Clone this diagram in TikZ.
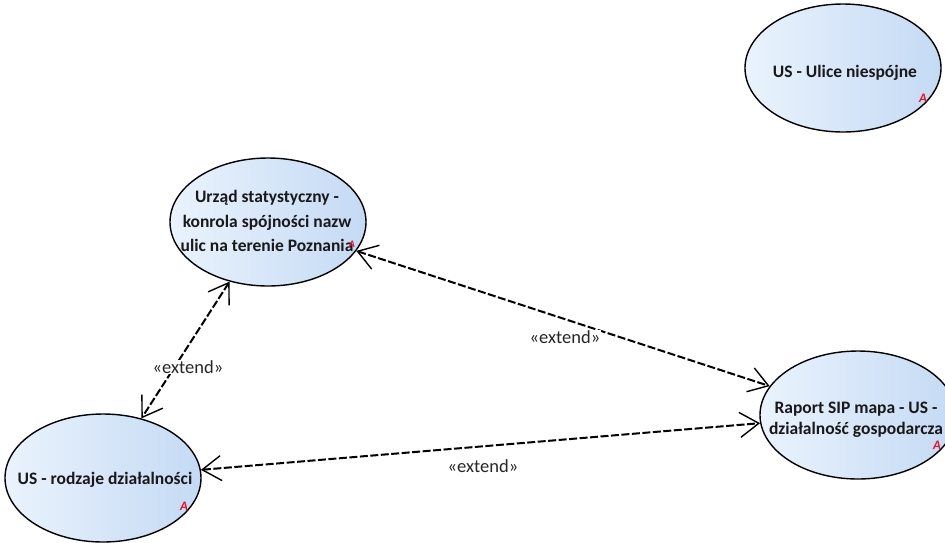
\documentclass[tikz,border=0pt]{standalone}
\usepackage{fontspec}
\setmainfont{Carlito}
\usetikzlibrary{shapes.geometric,arrows.meta}
\definecolor{fillL}{HTML}{EAF3FD}
\definecolor{fillR}{HTML}{C4DAF4}
\definecolor{markred}{HTML}{E8102A}
\tikzset{
  usecase/.style={ellipse, draw=black, line width=1.4pt, left color=fillL, right color=fillR,
    minimum width=196pt, minimum height=128pt, inner sep=0pt},
  uctext/.style={font=\fontsize{17.5}{24.5}\selectfont\bfseries, align=center, text=black!90},
  extlink/.style={line width=2pt, dash pattern=on 8pt off 2.5pt,
    {Straight Barb[length=19pt,width=25pt,line width=1.4pt]}-{Straight Barb[length=19pt,width=25pt,line width=1.4pt]}},
  extlabel/.style={font=\fontsize{18.5}{20}\selectfont, text=black!85},
  amark/.style={font=\fontsize{13}{13}\selectfont\bfseries\itshape, text=markred}
}
\begin{document}
\begin{tikzpicture}[x=1pt,y=-1pt]
\useasboundingbox (0,0) rectangle (945,542);
\node[usecase] (ulice) at (843,68) {};
\node[uctext] (uliceT) at (845,73) {US - Ulice niespójne};
\node[amark] (uliceA) at (923,98) {A};

\node[usecase] (urzad) at (268,222) {};
\node[uctext, inner sep=0pt] (urzadT) at (267,221) {Urząd statystyczny -\\konrola spójności nazw\\ulic na terenie Poznania};
\node[amark, inner sep=0pt, font=\fontsize{10}{10}\selectfont\bfseries\itshape] (urzadA) at (352,244) {A};

\node[usecase] (rodzaje) at (103,478) {};
\node[uctext] (rodzajeT) at (105,480) {US - rodzaje działalności};
\node[amark] (rodzajeA) at (184,506) {A};

\node[usecase] (raport) at (858,415) {};
\node[uctext, font=\fontsize{17.5}{21}\selectfont\bfseries] (raportT) at (856,420) {Raport SIP mapa - US -\\działalność gospodarcza};
\node[amark] (raportA) at (937,445) {A};

\draw[extlink] (urzad) -- (raport);
\draw[extlink] (urzad) -- (rodzaje);
\draw[extlink] (rodzaje) -- (raport);

\node[extlabel, fill=white, inner sep=1pt] (l1) at (188,367) {«extend»};
\node[extlabel, fill=white, inner sep=1pt] (l2) at (565,337) {«extend»};
\node[extlabel] (l3) at (483,466) {«extend»};
\end{tikzpicture}
\end{document}
